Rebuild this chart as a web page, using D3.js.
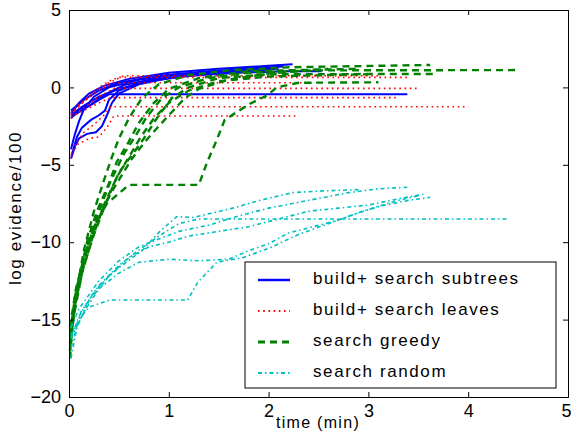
<!DOCTYPE html>
<html lang="en">
<head>
<meta charset="UTF-8">
<title>log evidence vs time</title>
<script src="https://cdn.jsdelivr.net/npm/d3@7"></script>
<style>
    html, body { margin: 0; padding: 0; background: #fff; }
    svg { display: block; font-family: "Liberation Sans", Arial, Helvetica, sans-serif; }
</style>
</head>
<body>
<script>
// each run is a list of [time (min), log evidence/100]
const subtreesRuns = [
    [[0.02,-1.7],[0.1,-1.0],[0.2,-0.4],[0.35,0.1],[0.6,0.55],[1.0,0.95],[1.5,1.2],[2.0,1.4],[2.24,1.5]],
    [[0.02,-2.0],[0.12,-1.3],[0.3,-0.6],[0.5,-0.1],[0.8,0.4],[1.2,0.75],[1.7,0.95],[2.2,1.05],[2.53,1.05]],
    [[0.02,-1.5],[0.15,-0.8],[0.3,-0.2],[0.5,0.3],[0.9,0.75],[1.4,1.05],[1.9,1.25],[2.15,1.35]],
    [[0.02,-1.9],[0.2,-1.2],[0.35,-0.5],[0.55,0.15],[0.9,0.6],[1.3,0.9],[1.8,1.1],[2.1,1.2]],
    [[0.02,-1.8],[0.1,-1.4],[0.2,-1.2],[0.3,-0.8],[0.4,-0.45],[3.39,-0.45]],
    [[0.02,-4.6],[0.06,-3.8],[0.1,-3.3],[0.18,-3.0],[0.27,-2.9],[0.33,-2.5],[0.38,-1.8],[0.43,-1.0],[0.5,-0.4],[0.7,0.2],[1.0,0.6],[1.5,0.95],[2.0,1.15]],
    [[0.03,-4.3],[0.08,-3.2],[0.13,-2.6],[0.22,-2.1],[0.3,-1.8],[0.36,-1.5],[0.4,-0.8],[0.5,-0.2],[0.7,0.3],[1.1,0.75],[1.6,1.0],[2.05,1.25]],
    [[0.02,-4.0],[0.06,-3.0],[0.1,-2.2],[0.15,-1.4],[0.25,-0.6],[0.4,0.0],[0.7,0.5],[1.1,0.85],[1.6,1.1],[2.0,1.3]]
]
const leavesRuns = [
    [[0.02,-1.8],[0.1,-1.2],[0.2,-0.6],[0.3,0.0],[0.4,0.4],[0.5,0.65],[3.39,0.65]],
    [[0.02,-1.6],[0.12,-1.0],[0.25,-0.3],[0.4,0.3],[0.55,0.75],[3.1,0.75]],
    [[0.02,-2.0],[0.15,-1.3],[0.3,-0.6],[0.45,-0.06],[3.5,-0.06]],
    [[0.02,-1.9],[0.15,-1.5],[0.3,-1.0],[0.42,-0.66],[3.28,-0.66]],
    [[0.02,-4.4],[0.08,-3.5],[0.15,-2.9],[0.25,-2.4],[0.35,-1.8],[0.42,-1.25],[4.0,-1.25]],
    [[0.02,-4.6],[0.08,-3.7],[0.2,-3.3],[0.3,-3.2],[0.38,-2.6],[0.45,-1.85],[2.3,-1.85]],
    [[0.02,-1.7],[0.15,-0.9],[0.3,-0.2],[0.45,0.3],[2.45,0.3]]
]
const greedyRuns = [
    [[0.01,-17.5],[0.04,-15],[0.08,-13],[0.15,-10.5],[0.25,-8],[0.35,-6],[0.43,-4.5],[0.5,-3.3],[0.6,-2],[0.73,-0.7],[0.9,0.2],[1.2,0.8],[1.6,1.1],[2.2,1.3],[3.62,1.45]],
    [[0.01,-17],[0.05,-14.5],[0.12,-12],[0.2,-10],[0.3,-8],[0.42,-6],[0.55,-4.3],[0.65,-3.3],[0.78,-1.9],[0.93,-0.7],[1.1,0.0],[1.4,0.6],[1.8,0.95],[2.5,1.1],[4.52,1.12]],
    [[0.01,-16.5],[0.06,-14],[0.15,-11.5],[0.25,-9.5],[0.38,-7.3],[0.5,-5.5],[0.65,-4.2],[0.75,-3.3],[0.9,-1.8],[1.03,-0.7],[1.2,0.0],[1.5,0.6],[2.0,0.85],[3.67,0.87]],
    [[0.01,-16],[0.06,-13.5],[0.15,-11],[0.25,-9],[0.38,-7.5],[0.6,-6.3],[1.3,-6.3],[1.38,-4.9],[1.48,-3.4],[1.56,-2.1],[1.8,-1.1],[1.99,-0.5],[2.08,0.0],[2.3,0.3],[3.1,0.33]],
    [[0.01,-15.5],[0.07,-13],[0.17,-10.5],[0.3,-8.3],[0.45,-6.5],[0.62,-4.7],[0.75,-3.6],[0.9,-2.5],[1.0,-1.8],[1.16,-0.7],[1.3,-0.1],[1.6,0.5],[2.0,0.9],[2.6,1.2]],
    [[0.01,-17],[0.03,-15.5],[0.1,-12.5],[0.18,-10],[0.28,-8],[0.4,-6.2],[0.48,-4.8],[0.6,-3.5],[0.7,-2.3],[0.85,-1.0],[1.0,-0.1],[1.3,0.6],[1.8,1.05],[2.9,1.2]],
    [[0.01,-16.8],[0.05,-14.7],[0.13,-12],[0.23,-9.8],[0.35,-7.6],[0.48,-5.8],[0.6,-4.5],[0.72,-3.2],[0.85,-2.0],[1.0,-1.0],[1.2,-0.2],[1.5,0.4],[2.0,0.7],[2.6,0.8],[3.0,0.85]]
]
const randomRuns = [
    [[0.02,-16.2],[0.1,-14.8],[0.25,-13.2],[0.4,-12.2],[0.51,-11.6],[0.74,-10.5],[0.91,-9.3],[1.08,-8.35],[1.25,-8.4],[1.64,-7.8],[1.91,-7.3],[2.24,-6.8],[2.5,-6.7],[2.92,-6.6]],
    [[0.02,-16.8],[0.12,-14.5],[0.3,-12.8],[0.5,-11.5],[0.7,-10.5],[0.9,-9.6],[1.1,-8.8],[1.3,-8.5],[4.39,-8.5]],
    [[0.02,-16],[0.1,-15],[0.2,-14.2],[0.41,-13.73],[1.19,-13.73],[1.29,-12.6],[1.48,-11.3],[1.74,-11.0],[2.0,-10.4],[2.3,-9.5],[2.6,-8.8],[2.9,-8.1],[3.1,-7.7],[3.4,-7.3],[3.62,-7.1]],
    [[0.02,-15.5],[0.1,-14.3],[0.3,-12.5],[0.5,-11.2],[0.7,-10.3],[0.9,-9.8],[1.1,-9.3],[1.4,-8.9],[1.7,-8.3],[2.0,-7.8],[2.4,-7.3],[2.8,-6.8],[3.1,-6.55],[3.39,-6.45]],
    [[0.02,-16.2],[0.15,-14.5],[0.3,-13],[0.5,-12.0],[0.7,-11.3],[1.0,-11.1],[1.3,-11.2],[1.6,-11.1],[1.78,-10.6],[2.0,-10.1],[2.2,-9.4],[2.45,-9.0],[2.68,-8.6],[2.9,-8.1],[3.09,-7.7],[3.3,-7.3],[3.5,-7.0]],
    [[0.02,-17.5],[0.08,-15.5],[0.2,-13.8],[0.4,-12.2],[0.6,-11.0],[0.8,-10.3],[1.0,-10.0],[1.2,-9.6],[1.5,-9.3],[1.8,-9.0],[2.1,-8.5],[2.4,-8.0],[2.7,-7.8],[3.0,-7.6],[3.3,-7.2],[3.55,-6.9]]
]

const xTicks = [0, 1, 2, 3, 4, 5]
const yTicks = [-20, -15, -10, -5, 0, 5]
const legendLabels = ["build+ search subtrees", "build+ search leaves", "search greedy", "search random"]

// series styles, same order as the legend
const styles = [
    { runs: subtreesRuns, color: "#0000ff", width: 2,   dash: null },
    { runs: leavesRuns,   color: "#ff0000", width: 1.6, dash: "1.6,3.6" },
    { runs: greedyRuns,   color: "#008000", width: 2.4, dash: "7,5" },
    { runs: randomRuns,   color: "#00bfbf", width: 1.6, dash: "4,3,1.5,3" }
]

const W = 571, H = 431
const plot = { left: 69, right: 568, top: 10, bottom: 397 }

const svg = d3.select("body").append("svg")
    .attr("width", W)
    .attr("height", H)

const x = d3.scaleLinear().domain([0, 5]).range([plot.left, plot.right])
const y = d3.scaleLinear().domain([-20, 5]).range([plot.bottom, plot.top])

const line = d3.line().x(d => x(d[0])).y(d => y(d[1]))

// lines
styles.forEach(s => {
    svg.append("g")
        .selectAll("path")
        .data(s.runs)
        .join("path")
        .attr("d", line)
        .attr("fill", "none")
        .attr("stroke", s.color)
        .attr("stroke-width", s.width)
        .attr("stroke-dasharray", s.dash)
})

// axes box + inward ticks (matlab style)
const fmt = d => d < 0 ? "\u2212" + Math.abs(d) : String(d)
const tickLen = 5

const xAxisG = svg.append("g")
    .attr("transform", `translate(0,${plot.bottom})`)
    .call(d3.axisBottom(x).tickValues(xTicks).tickSize(-tickLen).tickPadding(7).tickFormat(fmt))
svg.append("g")
    .attr("transform", `translate(0,${plot.top})`)
    .call(d3.axisTop(x).tickValues(xTicks).tickSize(-tickLen).tickFormat(""))
svg.append("g")
    .attr("transform", `translate(${plot.left},0)`)
    .call(d3.axisLeft(y).tickValues(yTicks).tickSize(-tickLen).tickPadding(8).tickFormat(fmt))
svg.append("g")
    .attr("transform", `translate(${plot.right},0)`)
    .call(d3.axisRight(y).tickValues(yTicks).tickSize(-tickLen).tickFormat(""))

svg.selectAll(".domain").attr("stroke", "#000").attr("stroke-width", 1)
svg.selectAll(".tick line").attr("stroke", "#000")
svg.selectAll(".tick text")
    .attr("font-family", "Liberation Sans, Arial, sans-serif")
    .attr("font-size", 18)
    .attr("fill", "#000")

// last x label sits on the window edge, pull it in a touch
xAxisG.selectAll(".tick text").filter(d => d === 5).attr("dx", -2)

// axis labels
svg.append("text")
    .attr("x", 318)
    .attr("y", 424)
    .attr("text-anchor", "middle")
    .attr("dominant-baseline", "middle")
    .attr("font-size", 16)
    .attr("letter-spacing", 1.3)
    .text("time (min)")

svg.append("text")
    .attr("transform", "translate(17,208) rotate(-90)")
    .attr("text-anchor", "middle")
    .attr("dominant-baseline", "middle")
    .attr("font-size", 17)
    .attr("letter-spacing", 1.6)
    .text("log evidence/100")

// legend
const lg = svg.append("g")
lg.append("rect")
    .attr("x", 245).attr("y", 262)
    .attr("width", 311).attr("height", 126)
    .attr("fill", "#fff")
    .attr("stroke", "#000")
    .attr("stroke-width", 1)

const rowY = d3.scalePoint().domain(legendLabels).range([280, 373])

const items = lg.selectAll("g.item")
    .data(styles.map((s, i) => ({ ...s, label: legendLabels[i] })))
    .join("g")
    .attr("class", "item")
    .attr("transform", d => `translate(0,${rowY(d.label)})`)

items.append("line")
    .attr("x1", 258).attr("x2", 290)
    .attr("stroke", d => d.color)
    .attr("stroke-width", d => d.width + 0.4)
    .attr("stroke-dasharray", d => d.dash)

items.append("text")
    .attr("x", 313)
    .attr("dominant-baseline", "middle")
    .attr("font-size", 17)
    .attr("letter-spacing", 1.6)
    .text(d => d.label)
</script>
</body>
</html>
